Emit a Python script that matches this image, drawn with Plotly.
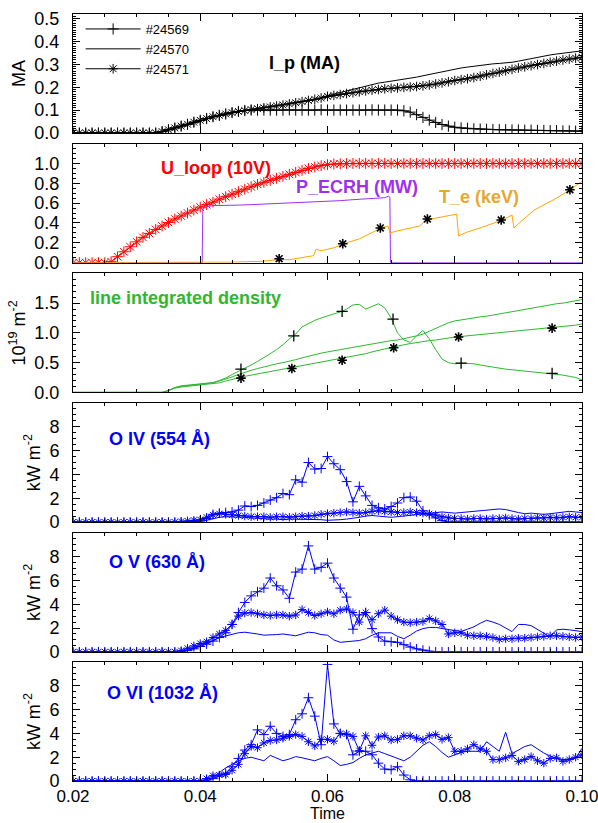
import plotly.graph_objects as go
from plotly.subplots import make_subplots

# ---------------- time base (s) ----------------
t = [0.020, 0.021, 0.022, 0.023, 0.024, 0.025, 0.026, 0.027, 0.028, 0.029,
     0.030, 0.031, 0.032, 0.033, 0.034, 0.035, 0.036, 0.037, 0.038, 0.039,
     0.040, 0.041, 0.042, 0.043, 0.044, 0.045, 0.046, 0.047, 0.048, 0.049,
     0.050, 0.051, 0.052, 0.053, 0.054, 0.055, 0.056, 0.057, 0.058, 0.059,
     0.060, 0.061, 0.062, 0.063, 0.064, 0.065, 0.066, 0.067, 0.068, 0.069,
     0.070, 0.071, 0.072, 0.073, 0.074, 0.075, 0.076, 0.077, 0.078, 0.079,
     0.080, 0.081, 0.082, 0.083, 0.084, 0.085, 0.086, 0.087, 0.088, 0.089,
     0.090, 0.091, 0.092, 0.093, 0.094, 0.095, 0.096, 0.097, 0.098, 0.099,
     0.100]

shots = ["#24569", "#24570", "#24571"]

# ---------------- panel 1 : plasma current (MA) ----------------
ip_24569 = [0, 0, 0, 0, 0, 0, 0, 0, 0, 0,
            0, 0, 0, 0, 0.006, 0.014, 0.022, 0.03, 0.038, 0.047,
            0.055, 0.063, 0.071, 0.077, 0.083, 0.089, 0.094, 0.098, 0.1, 0.1,
            0.1, 0.1, 0.1, 0.1, 0.101, 0.1, 0.1, 0.1, 0.1, 0.101,
            0.1, 0.1, 0.1, 0.1, 0.1, 0.1, 0.1, 0.101, 0.1, 0.1,
            0.1, 0.1, 0.097, 0.091, 0.08, 0.068, 0.056, 0.046, 0.037, 0.03,
            0.025, 0.022, 0.02, 0.018, 0.017, 0.016, 0.015, 0.014, 0.014, 0.013,
            0.013, 0.012, 0.012, 0.011, 0.011, 0.01, 0.01, 0.009, 0.009, 0.008,
            0.008]
ip_24570 = [0, 0, 0, 0, 0, 0, 0, 0, 0, 0,
            0, 0, 0, 0, 0.006, 0.014, 0.022, 0.03, 0.038, 0.047,
            0.055, 0.063, 0.071, 0.077, 0.083, 0.089, 0.094, 0.098, 0.102, 0.106,
            0.11, 0.114, 0.118, 0.122, 0.127, 0.132, 0.137, 0.142, 0.147, 0.153,
            0.163, 0.17, 0.178, 0.186, 0.193, 0.2, 0.207, 0.213, 0.218, 0.222,
            0.226, 0.229, 0.233, 0.238, 0.244, 0.25, 0.256, 0.262, 0.268, 0.274,
            0.279, 0.284, 0.288, 0.292, 0.296, 0.299, 0.302, 0.304, 0.306, 0.309,
            0.314, 0.32, 0.326, 0.331, 0.336, 0.341, 0.345, 0.349, 0.353, 0.356,
            0.359]
ip_24571 = [0, 0, 0, 0, 0, 0, 0, 0, 0, 0,
            0, 0, 0, 0, 0.006, 0.014, 0.022, 0.03, 0.038, 0.047,
            0.055, 0.063, 0.071, 0.077, 0.083, 0.089, 0.094, 0.098, 0.102, 0.106,
            0.11, 0.114, 0.118, 0.122, 0.127, 0.132, 0.137, 0.142, 0.147, 0.153,
            0.16, 0.164, 0.168, 0.172, 0.176, 0.18, 0.184, 0.187, 0.19, 0.193,
            0.195, 0.197, 0.199, 0.201, 0.203, 0.206, 0.21, 0.214, 0.219, 0.224,
            0.229, 0.233, 0.237, 0.242, 0.248, 0.254, 0.26, 0.266, 0.272, 0.278,
            0.284, 0.289, 0.294, 0.299, 0.304, 0.309, 0.314, 0.319, 0.323, 0.327,
            0.331]

# ---------------- panel 2 : loop voltage, ECRH power, Te ----------------
uloop = [0, 0, 0, 0, 0, 0, 0.01, 0.06, 0.11, 0.16,
         0.21, 0.255, 0.295, 0.335, 0.37, 0.405, 0.44, 0.47, 0.5, 0.53,
         0.56, 0.585, 0.61, 0.64, 0.665, 0.69, 0.715, 0.74, 0.765, 0.79,
         0.81, 0.83, 0.85, 0.87, 0.89, 0.91, 0.93, 0.95, 0.965, 0.978,
         0.988, 0.994, 0.997, 0.999, 1, 1, 1, 1, 1, 1,
         1, 1, 1, 1, 1, 1, 1, 1, 1, 1,
         1, 1, 1, 1, 1, 1, 1, 1, 1, 1,
         1, 1, 1, 1, 1, 1, 1, 1, 1, 1,
         1]
ecrh_t = [0.020, 0.0403, 0.0404, 0.041, 0.042, 0.044, 0.046, 0.048, 0.050, 0.052,
          0.054, 0.056, 0.058, 0.060, 0.062, 0.064, 0.066, 0.068, 0.069, 0.0696,
          0.0698, 0.0699, 0.100]
ecrh_v = [0, 0, 0.54, 0.565, 0.575, 0.575, 0.58, 0.585, 0.59, 0.6,
          0.605, 0.605, 0.61, 0.615, 0.625, 0.635, 0.645, 0.65, 0.655, 0.67,
          0.66, 0, 0]
te_t = [0.020, 0.040, 0.045, 0.050, 0.052, 0.054, 0.056, 0.0578, 0.0582, 0.059,
        0.061, 0.063, 0.065, 0.067, 0.0685, 0.0695, 0.0698, 0.071, 0.073, 0.0745,
        0.0755, 0.077, 0.0785, 0.0803, 0.0806, 0.082, 0.084, 0.086, 0.0875, 0.089,
        0.0893, 0.0905, 0.0925, 0.0945, 0.096, 0.098, 0.100]
te_v = [0, 0, 0.005, 0.015, 0.03, 0.03, 0.05, 0.07, 0.135, 0.12,
        0.15, 0.2, 0.24, 0.3, 0.35, 0.37, 0.3, 0.32, 0.345, 0.37,
        0.43, 0.45, 0.47, 0.49, 0.27, 0.31, 0.35, 0.4, 0.43, 0.48,
        0.35, 0.42, 0.53, 0.6, 0.65, 0.73, 0.82]
te_mark_t = [0.0524, 0.0624, 0.0683, 0.0757, 0.0873, 0.0981]
te_mark_v = [0.04, 0.19, 0.35, 0.44, 0.43, 0.735]

# ---------------- panel 3 : line integrated density (1e19 m^-2) ----------------
dens_24569 = [0, 0, 0, 0, 0, 0, 0, 0, 0, 0,
              0, 0, 0, 0, 0, 0.03, 0.08, 0.11, 0.12, 0.13,
              0.14, 0.15, 0.165, 0.2, 0.24, 0.3, 0.35, 0.4, 0.46, 0.52,
              0.58, 0.65, 0.72, 0.8, 0.9, 0.98, 1.1, 1.16, 1.21, 1.25,
              1.29, 1.32, 1.35, 1.4, 1.47, 1.48, 1.4, 1.45, 1.49, 1.42,
              1.25, 1.0, 0.88, 0.84, 0.95, 1.04, 0.9, 0.72, 0.56, 0.5,
              0.48, 0.49, 0.49, 0.48, 0.46, 0.44, 0.42, 0.4, 0.39, 0.38,
              0.37, 0.36, 0.35, 0.34, 0.33, 0.32, 0.31, 0.29, 0.27, 0.25,
              0.21]
dens_24570 = [0, 0, 0, 0, 0, 0, 0, 0, 0, 0,
              0, 0, 0, 0, 0, 0.03, 0.08, 0.1, 0.11, 0.12,
              0.13, 0.14, 0.16, 0.19, 0.22, 0.26, 0.3, 0.34, 0.37, 0.4,
              0.43, 0.46, 0.48, 0.5, 0.52, 0.55, 0.58, 0.61, 0.64, 0.66,
              0.68, 0.7, 0.72, 0.74, 0.76, 0.78, 0.8, 0.82, 0.84, 0.85,
              0.87, 0.88, 0.9, 0.92, 0.95, 0.98, 1.03, 1.08, 1.13, 1.17,
              1.2, 1.22, 1.23, 1.25, 1.27, 1.28, 1.3, 1.32, 1.33, 1.35,
              1.37, 1.39, 1.42, 1.44, 1.46, 1.48, 1.49, 1.5, 1.52, 1.54,
              1.56]
dens_24571 = [0, 0, 0, 0, 0, 0, 0, 0, 0, 0,
              0, 0, 0, 0, 0, 0.03, 0.07, 0.09, 0.1, 0.11,
              0.12, 0.13, 0.14, 0.16, 0.19, 0.22, 0.25, 0.27, 0.29, 0.31,
              0.33, 0.35, 0.37, 0.39, 0.41, 0.43, 0.45, 0.47, 0.49, 0.51,
              0.53, 0.54, 0.56, 0.58, 0.6, 0.62, 0.65, 0.68, 0.71, 0.73,
              0.75, 0.78, 0.8, 0.82, 0.84, 0.86, 0.87, 0.88, 0.9, 0.91,
              0.93, 0.94, 0.95, 0.96, 0.97, 0.98, 0.99, 1.0, 1.01, 1.02,
              1.03, 1.04, 1.05, 1.06, 1.07, 1.08, 1.09, 1.1, 1.11, 1.13,
              1.15]
dens_mark_t_24569 = [0.0464, 0.0547, 0.0623, 0.0703, 0.0810, 0.0953]
dens_mark_v_24569 = [0.39, 0.95, 1.36, 1.23, 0.49, 0.32]
dens_mark_t_24571 = [0.0464, 0.0544, 0.0623, 0.0704, 0.0806, 0.0953]
dens_mark_v_24571 = [0.24, 0.40, 0.54, 0.75, 0.93, 1.08]

# ---------------- panel 4 : O IV (kW m^-2) ----------------
o4_24569 = [0, 0, 0, 0, 0, 0, 0, 0, 0, 0,
            0, 0, 0, 0, 0, 0, 0, 0, 0, 0,
            0.1, 0.3, 0.65, 0.75, 0.8, 0.85, 1.0, 1.35, 1.3, 1.4,
            1.6, 1.85, 2.05, 2.4, 2.3, 3.55, 3.35, 5.0, 4.45, 4.5,
            5.5, 4.9, 4.4, 3.4, 1.7, 3.0, 2.2, 1.4, 1.2, 1.1,
            1.3, 1.6, 2.05, 2.1, 1.75, 0.95, 0.6, 0.35, 0.12, 0,
            0, 0, 0, 0, 0, 0, 0, 0, 0, 0,
            0, 0, 0, 0, 0, 0, 0, 0, 0, 0,
            0]
o4_24570 = [0, 0, 0, 0, 0, 0, 0, 0, 0, 0,
            0, 0, 0, 0, 0, 0, 0, 0, 0, 0,
            0.05, 0.15, 0.3, 0.4, 0.45, 0.45, 0.45, 0.4, 0.35, 0.3,
            0.3, 0.25, 0.25, 0.2, 0.25, 0.25, 0.2, 0.2, 0.25, 0.2,
            0.15, 0.15, 0.2, 0.25, 0.3, 0.4, 0.5, 0.55, 0.5, 0.45,
            0.4, 0.45, 0.5, 0.55, 0.6, 0.7, 0.75, 0.8, 0.85, 0.8,
            0.75, 0.8, 0.85, 0.9, 0.95, 1.0, 1.05, 1.1, 1.05, 0.9,
            0.8, 0.7, 0.75, 0.7, 0.65, 0.7, 0.75, 0.8, 0.9, 0.85,
            0.8]
o4_24571 = [0, 0, 0, 0, 0, 0, 0, 0, 0, 0,
            0, 0, 0, 0, 0, 0, 0, 0.05, 0.1, 0.15,
            0.2, 0.4, 0.6, 0.7, 0.65, 0.6, 0.55, 0.5, 0.45, 0.45,
            0.45, 0.4, 0.45, 0.45, 0.4, 0.45, 0.5, 0.5, 0.55, 0.65,
            0.7, 0.75, 0.8, 0.85, 0.8, 0.75, 0.8, 0.9, 0.95, 0.9,
            0.85, 0.8, 0.8, 0.85, 0.8, 0.75, 0.7, 0.6, 0.45, 0.35,
            0.3, 0.3, 0.25, 0.3, 0.3, 0.25, 0.3, 0.3, 0.35, 0.3,
            0.25, 0.3, 0.3, 0.35, 0.35, 0.4, 0.35, 0.4, 0.45, 0.4,
            0.4]

# ---------------- panel 5 : O V (kW m^-2) ----------------
o5_24569 = [0, 0, 0, 0, 0, 0, 0, 0, 0, 0,
            0, 0, 0, 0, 0, 0, 0, 0, 0.1, 0.25,
            0.45, 0.65, 0.9, 1.2, 1.6, 2.3, 3.3, 4.15, 4.7, 5.05,
            5.35, 6.2, 5.55, 5.2, 4.5, 6.7, 6.95, 8.9, 6.95, 7.1,
            7.45, 6.2, 5.35, 4.6, 1.9, 3.1, 3.3, 1.95, 1.25, 0.9,
            0.85, 0.8, 0.6, 0.4, 0.25, 0.15, 0.05, 0, 0, 0,
            0, 0, 0, 0, 0, 0, 0, 0, 0, 0,
            0, 0, 0, 0, 0, 0, 0, 0, 0, 0,
            0]
o5_24570 = [0, 0, 0, 0, 0, 0, 0, 0, 0, 0,
            0, 0, 0, 0, 0, 0, 0, 0, 0.1, 0.3,
            0.5, 0.7, 0.95, 1.2, 1.35, 1.5, 1.6, 1.65, 1.6, 1.5,
            1.4, 1.4, 1.45, 1.5, 1.45, 1.35, 1.5, 1.65, 1.6, 1.45,
            1.4, 1.0, 0.8, 0.85, 0.9, 0.95, 1.1, 1.4, 1.6, 1.6,
            1.6, 1.3, 1.1, 1.4, 1.75, 1.95, 2.05, 2.05, 1.95, 1.85,
            1.75, 1.7, 1.9, 2.1, 2.4, 2.65, 2.5, 2.3, 2.0, 1.7,
            2.3, 2.3, 2.2, 1.9, 1.6, 1.25, 1.85, 1.9, 1.85, 1.8,
            1.7]
o5_24571 = [0, 0, 0, 0, 0, 0, 0, 0, 0, 0,
            0, 0, 0, 0, 0, 0, 0, 0.1, 0.3, 0.5,
            0.7, 0.85, 1.2, 1.5, 1.8, 2.3, 3.0, 3.25, 3.3, 3.2,
            3.1, 3.05, 3.1, 3.1, 3.0, 3.1, 3.55, 3.3, 3.05, 3.2,
            3.35, 3.2, 3.5, 3.6, 3.3, 2.5, 3.3, 2.7, 3.2, 3.5,
            3.0, 2.7, 2.5, 2.45, 2.5, 2.55, 2.8, 2.6, 2.3, 1.5,
            1.6, 1.6, 1.4, 1.35, 1.35, 1.3, 1.2, 1.05, 1.1, 1.1,
            1.15, 1.15, 1.2, 1.25, 1.3, 1.35, 1.35, 1.3, 1.25, 1.2,
            1.25]

# ---------------- panel 6 : O VI (kW m^-2) ----------------
o6_24569 = [0, 0, 0, 0, 0, 0, 0, 0, 0, 0,
            0, 0, 0, 0, 0, 0, 0, 0, 0, 0,
            0, 0, 0.2, 0.4, 0.65, 1.2, 1.9, 2.6, 3.05, 4.3,
            3.9, 4.6, 4.0, 3.75, 3.9, 5.15, 5.65, 7.0, 5.45, 3.05,
            9.8, 4.8, 4.0, 3.9, 2.2, 2.5, 2.5, 2.2, 1.5, 1.0,
            0.95, 1.2, 0.5, 0.1, 0, 0, 0, 0, 0, 0,
            0, 0, 0, 0, 0, 0, 0, 0, 0, 0,
            0, 0, 0, 0, 0, 0, 0, 0, 0, 0,
            0]
o6_24570 = [0, 0, 0, 0, 0, 0, 0, 0, 0, 0,
            0, 0, 0, 0, 0, 0, 0, 0, 0, 0,
            0, 0, 0.3, 0.7, 1.1, 1.4, 1.7, 1.9, 2.0, 1.85,
            1.7, 2.15, 1.9, 1.7, 1.85, 2.05, 1.95, 1.8, 1.7, 1.9,
            2.05, 1.7, 1.3, 1.4, 1.55, 1.9, 2.2, 2.35, 2.5, 2.3,
            2.1, 1.9, 1.7, 2.0, 2.5, 3.0, 3.3, 2.9, 2.4, 2.0,
            2.2, 2.4, 2.5, 2.5, 2.5, 3.3, 2.9, 2.5, 4.1, 2.3,
            2.6, 2.9, 3.05, 2.7, 2.35, 2.1, 1.9, 1.8, 1.85, 1.9,
            2.75]
o6_24571 = [0, 0, 0, 0, 0, 0, 0, 0, 0, 0,
            0, 0, 0, 0, 0, 0, 0, 0, 0, 0,
            0, 0.2, 0.45, 0.5, 0.55, 0.9, 1.4, 2.3, 2.9, 2.8,
            3.2, 3.4, 3.45, 3.6, 3.75, 3.9, 3.75, 3.3, 2.95, 3.5,
            3.5, 3.35, 4.0, 3.95, 3.75, 2.55, 3.8, 3.0, 3.7, 3.8,
            3.45, 3.5, 3.8, 3.8, 3.6, 3.45, 3.8, 3.9, 3.5, 3.65,
            2.5, 2.5, 2.7, 3.05, 2.7, 2.5, 1.8, 1.8, 1.95, 2.15,
            1.65, 1.8, 2.05, 1.7, 1.5, 1.9, 1.95, 1.65, 1.8, 2.0,
            2.2]

# ---------------- styling ----------------
FONT = "Liberation Sans, Arial, Helvetica, sans-serif"
BLACK = "#000000"
RED = "#FF0000"
PURPLE = "#A030F0"
ORANGE = "#FFA500"
ORANGE_TXT = "#E6A832"
GREEN = "#2EB82E"
BLUE = "#0000FF"

PLUS = "cross-thin-open"
STAR = "asterisk-open"

fig = make_subplots(rows=6, cols=1, shared_xaxes=True, vertical_spacing=0.01)


def line(x, y, color, row, name=None, symbol=None, msize=7, mcolor=None,
         mwidth=1.0, legend=False, mode=None):
    if mode is None:
        mode = "lines" if symbol is None else "lines+markers"
    kw = dict(x=x, y=y, mode=mode, name=name, showlegend=legend,
              line=dict(color=color, width=1))
    if symbol is not None:
        kw["marker"] = dict(symbol=symbol, size=msize,
                            color=mcolor or color,
                            line=dict(color=mcolor or color, width=mwidth))
    fig.add_trace(go.Scatter(**kw), row=row, col=1)


# panel 1
line(t, ip_24569, BLACK, 1, shots[0], PLUS, 8, legend=True)
line(t, ip_24570, BLACK, 1, shots[1], None, legend=True)
line(t, ip_24571, BLACK, 1, shots[2], STAR, 8, legend=True)

# panel 2
line(t, uloop, RED, 2, "U_loop", STAR, 9)
line(ecrh_t, ecrh_v, PURPLE, 2, "P_ECRH")
line(te_t, te_v, ORANGE, 2, "T_e")
line(te_mark_t, te_mark_v, BLACK, 2, "T_e", STAR, 8, mwidth=1.6, mode="markers")

# panel 3
line(t, dens_24569, GREEN, 3, shots[0])
line(t, dens_24570, GREEN, 3, shots[1])
line(t, dens_24571, GREEN, 3, shots[2])
line(dens_mark_t_24569, dens_mark_v_24569, BLACK, 3, shots[0], PLUS, 8,
     mwidth=1.3, mode="markers")
line(dens_mark_t_24571, dens_mark_v_24571, BLACK, 3, shots[2], STAR, 8,
     mwidth=1.6, mode="markers")

# panels 4-6
for row, (a, b, c) in zip([4, 5, 6], [(o4_24569, o4_24570, o4_24571),
                                     (o5_24569, o5_24570, o5_24571),
                                     (o6_24569, o6_24570, o6_24571)]):
    line(t, c, BLUE, row, shots[2], STAR, 7)
    line(t, b, BLUE, row, shots[1])
    line(t, a, BLUE, row, shots[0], PLUS, 7)

# ---------------- axes ----------------
domains = [[0.8449, 1.0], [0.6758, 0.8310], [0.5067, 0.6618],
           [0.3376, 0.4928], [0.1684, 0.3236], [0.0, 0.1551]]
yranges = [[0, 0.52], [0, 1.2], [0, 2.0], [0, 10], [0, 10], [0, 10]]
ydticks = [0.1, 0.2, 0.5, 2, 2, 2]
yminor = [0.01, 0.05, 0.1, 0.5, 0.5, 0.5]
yfmt = [".1f", ".1f", ".1f", "d", "d", "d"]
ymaxtick = [0.5, 1.0, 1.5, 8, 8, 8]
ytitles = ["MA", "", "10<sup>19</sup> m<sup>-2</sup>",
           "kW m<sup>-2</sup>", "kW m<sup>-2</sup>", "kW m<sup>-2</sup>"]

for i in range(6):
    r = i + 1
    vals = []
    v = 0.0
    while v <= ymaxtick[i] + 1e-9:
        vals.append(round(v, 3))
        v += ydticks[i]
    fig.update_yaxes(
        row=r, col=1, domain=domains[i], range=yranges[i], automargin=False,
        tickmode="array", tickvals=vals, tickformat=yfmt[i],
        showline=True, linecolor=BLACK, linewidth=1, mirror="allticks",
        ticks="inside", ticklen=7, tickwidth=1, tickcolor=BLACK,
        minor=dict(ticks="inside", ticklen=3, dtick=yminor[i], tick0=0,
                   tickcolor=BLACK, showgrid=False),
        showgrid=False, zeroline=False, ticklabelstandoff=9,
        tickfont=dict(family=FONT, size=18, color=BLACK),
        title=dict(text=ytitles[i], font=dict(family=FONT, size=18, color=BLACK),
                   standoff=4),
    )
    fig.update_xaxes(
        row=r, col=1, range=[0.02, 0.10], tick0=0.02, dtick=0.02,
        tickformat=".2f", automargin=False, ticklabeloverflow="allow",
        showline=True, linecolor=BLACK, linewidth=1, mirror="allticks",
        ticks="inside", ticklen=7, tickwidth=1, tickcolor=BLACK,
        minor=dict(ticks="inside", ticklen=3, dtick=0.005, tick0=0.02,
                   tickcolor=BLACK, showgrid=False),
        showgrid=False, zeroline=False, showticklabels=(r == 6),
        ticklabelstandoff=0,
        tickfont=dict(family=FONT, size=17, color=BLACK),
    )

# ---------------- labels ----------------
def label(text, x, y, color, row):
    ref = "" if row == 1 else str(row)
    fig.add_annotation(text=text, x=x, y=y, xref="x" + ref, yref="y" + ref,
                       xanchor="left", yanchor="middle", showarrow=False,
                       font=dict(family=FONT, size=18, color=color, weight="bold"))


label("I_p (MA)", 0.0505, 0.305, BLACK, 1)
label("U_loop (10V)", 0.0335, 0.95, RED, 2)
label("P_ECRH (MW)", 0.0548, 0.765, PURPLE, 2)
label("T_e (keV)", 0.0772, 0.665, ORANGE_TXT, 2)
label("line integrated density", 0.0224, 1.59, GREEN, 3)
label("O IV (554 Å)", 0.0253, 7.0, BLUE, 4)
label("O V (630 Å)", 0.0253, 7.55, BLUE, 5)
label("O VI (1032 Å)", 0.0251, 7.4, BLUE, 6)

# x-axis title placed as a paper annotation below the tick labels
fig.add_annotation(text="Time", x=0.5, y=-0.0428, xref="paper", yref="paper",
                   xanchor="center", yanchor="middle", showarrow=False,
                   font=dict(family=FONT, size=16, color=BLACK))

fig.update_layout(
    width=598, height=823,
    margin=dict(l=73, r=16, t=14, b=42, autoexpand=False),
    paper_bgcolor="white", plot_bgcolor="white",
    font=dict(family=FONT, size=14, color=BLACK),
    legend=dict(x=0.015, y=1.0, xanchor="left", yanchor="top",
                bgcolor="rgba(0,0,0,0)", font=dict(family=FONT, size=13),
                tracegroupgap=0, itemwidth=55),
)

# the page's default 8px body margin would shift the 598x823 figure; remove it
fig.write_html("out.html",
               config={"displayModeBar": False},
               post_script="document.body.style.margin='0px';"
                           "document.body.style.overflow='hidden';")
